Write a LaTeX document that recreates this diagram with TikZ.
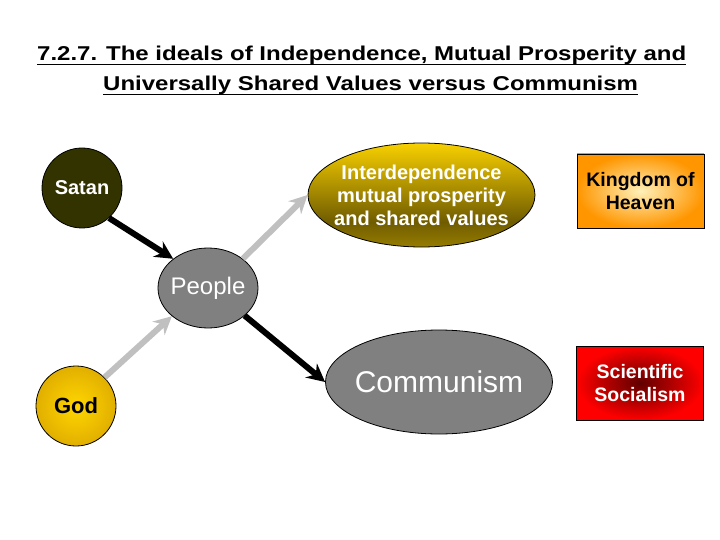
\documentclass[tikz,border=0pt]{standalone}
\usepackage{fontspec}
\setmainfont{Liberation Sans}
\usetikzlibrary{shapes.geometric,arrows.meta,calc}
\definecolor{satanC}{RGB}{51,51,0}
\definecolor{peopleC}{RGB}{128,128,128}
\definecolor{arrowG}{RGB}{192,192,192}
\definecolor{goldT}{RGB}{248,208,0}
\definecolor{goldD}{RGB}{112,92,0}
\definecolor{goldB}{RGB}{150,125,0}
\definecolor{godIn}{RGB}{255,214,0}
\definecolor{godOut}{RGB}{225,175,0}
\definecolor{kingIn}{RGB}{255,240,185}
\definecolor{kingOut}{RGB}{255,150,0}
\definecolor{sciIn}{RGB}{95,0,0}
\definecolor{sciOut}{RGB}{255,0,0}
\pgfdeclareverticalshading{goldband}{100bp}{color(0bp)=(goldB); color(25bp)=(goldB); color(37bp)=(goldD); color(75bp)=(goldT); color(100bp)=(goldT)}
\begin{document}
\begin{tikzpicture}[x=1pt,y=-1pt,
  every node/.style={align=center},
  circnode/.style={circle, draw=black, line width=0.8pt, minimum size=80pt, inner sep=0pt},
  ellnode/.style={ellipse, draw=black, line width=0.8pt, inner sep=0pt, minimum width=227pt, minimum height=104pt},
  boxnode/.style={rectangle, draw=black, line width=0.8pt, minimum width=127pt, minimum height=74pt, inner sep=0pt},
  blackarrow/.style={line width=6pt, draw=black, -{Stealth[length=18pt,width=18pt,inset=6pt]}},
  grayarrow/.style={line width=6pt, draw=arrowG, -{Stealth[length=18pt,width=18pt,inset=6pt]}},
  titlefont/.style={font=\fontsize{20}{24}\selectfont\bfseries, inner sep=0pt, anchor=base west},
  uline/.style={line width=1.5pt}
]
\useasboundingbox (0,0) rectangle (720,540);

% title
\node[titlefont] (t1) at (37,61) {\scalebox{1.2}[1]{7.2.7. The ideals of Independence, Mutual Prosperity and}};
\node[titlefont] (t2) at (103,91) {\scalebox{1.2}[1]{Universally Shared Values versus Communism}};
\draw[uline] ($(t1.base west)+(0,3.5)$) -- ($(t1.base east)+(0,3.5)$);
\draw[uline] ($(t2.base west)+(0,3.5)$) -- ($(t2.base east)+(0,3.5)$);

% nodes
\node[circnode, fill=satanC, text=white, font=\fontsize{20}{23}\selectfont\bfseries] (satan) at (82,188) {Satan};
\node[ellnode, minimum width=100pt, minimum height=80pt, inner xsep=-6pt, fill=peopleC, text=white, font=\fontsize{24}{27}\selectfont] (people) at (208,288) {People};
\node[ellnode, inner xsep=-12pt, shading=goldband, text=white, font=\fontsize{20}{23}\selectfont\bfseries] (inter) at (421.5,195) {Interdependence\\mutual prosperity\\and shared values};
\node[boxnode, inner color=kingIn, outer color=kingOut, text=black, font=\fontsize{19.5}{23}\selectfont\bfseries] (kingdom) at (640.5,191) {Kingdom of\\Heaven};
\node[circnode, inner color=godIn, outer color=godOut, text=black, font=\fontsize{22}{25}\selectfont\bfseries] (god) at (76,406) {God};
\node[ellnode, inner xsep=-12pt, fill=peopleC, text=white, font=\fontsize{30}{33}\selectfont] (comm) at (439,382) {Communism};
\node[boxnode, inner color=sciIn, outer color=sciOut, text=white, font=\fontsize{19.5}{23}\selectfont\bfseries] (sci) at (640,383) {Scientific\\Socialism};

% connectors
\draw[blackarrow] (satan.-48) -- (people.140);
\draw[grayarrow] (people.40) -- (inter.west);
\draw[grayarrow] (god.45) -- (people.218);
\draw[blackarrow] (people.-37) -- (comm.west);
\end{tikzpicture}
\end{document}
